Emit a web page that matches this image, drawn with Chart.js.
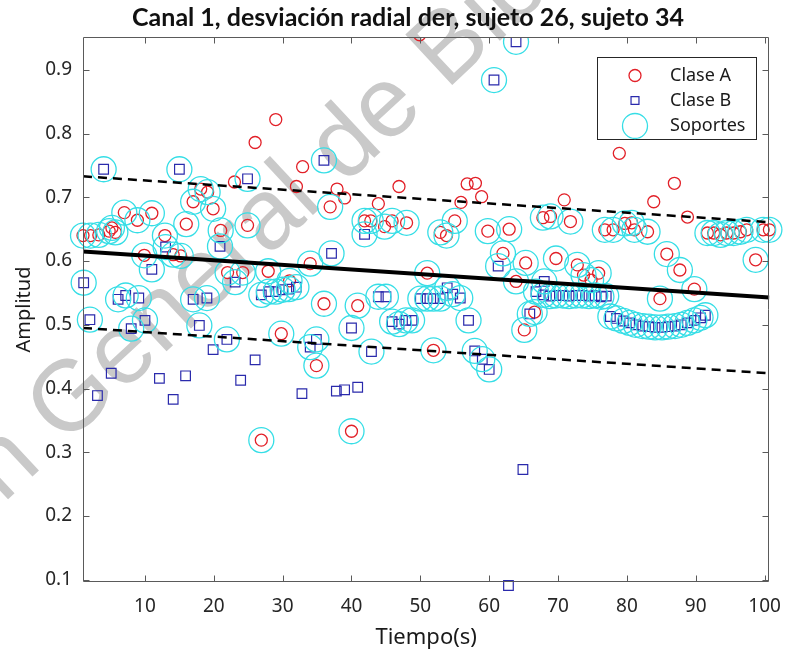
<!DOCTYPE html>
<html>
<head>
<meta charset="utf-8">
<script src="https://cdn.jsdelivr.net/npm/chart.js@4.4.1/dist/chart.umd.min.js"></script>
<style>
  html, body { margin: 0; padding: 0; background: #fff; }
  #wrap { width: 794px; height: 657px; }
</style>
</head>
<body>
<div id="wrap"><canvas id="myChart" width="794" height="657"></canvas></div>
<script>
// Clase A samples (time, amplitude, 1 = support vector)
const classA_x = [1.0, 2.1, 3.3, 4.8, 5.2, 5.7, 7.0, 8.9, 11.0, 9.9, 12.9, 14.1, 15.2, 16.0, 17.0, 18.1, 19.1, 19.9, 21.0, 23.0,
    22.0, 24.2, 26.0, 24.9, 26.9, 27.9, 29.0, 29.8, 31.0, 32.0, 32.9, 34.0, 34.9, 36.0, 36.9, 37.9, 39.0, 40.0, 40.9, 41.9,
    42.8, 43.9, 44.8, 45.9, 46.9, 48.0, 49.9, 51.0, 51.9, 52.9, 53.8, 55.0, 55.9, 56.8, 58.0, 58.9, 59.8, 62.0, 62.9, 63.9,
    65.3, 65.1, 66.6, 67.8, 68.9, 69.7, 70.9, 71.8, 72.8, 73.7, 74.8, 75.9, 76.8, 78.0, 78.9, 79.7, 80.7, 81.1, 83.0, 83.9,
    84.8, 85.8, 86.9, 87.7, 88.8, 89.8, 91.7, 92.6, 93.6, 94.5, 95.5, 96.5, 97.4, 98.7, 99.8, 100.7];
const classA_y = [0.640, 0.640, 0.641, 0.647, 0.652, 0.645, 0.676, 0.664, 0.675, 0.609, 0.640, 0.610, 0.608, 0.658, 0.693, 0.713, 0.708, 0.682, 0.648, 0.724,
    0.582, 0.582, 0.786, 0.656, 0.319, 0.584, 0.822, 0.486, 0.569, 0.717, 0.748, 0.596, 0.436, 0.533, 0.685, 0.713, 0.699, 0.333, 0.530, 0.663,
    0.663, 0.690, 0.654, 0.663, 0.717, 0.660, 0.955, 0.581, 0.460, 0.645, 0.640, 0.663, 0.692, 0.721, 0.722, 0.701, 0.647, 0.612, 0.650, 0.568,
    0.597, 0.492, 0.520, 0.668, 0.670, 0.604, 0.696, 0.662, 0.594, 0.578, 0.570, 0.581, 0.649, 0.649, 0.769, 0.659, 0.660, 0.649, 0.646, 0.693,
    0.541, 0.611, 0.722, 0.586, 0.669, 0.556, 0.644, 0.644, 0.641, 0.644, 0.644, 0.646, 0.649, 0.602, 0.649, 0.649];
const classA_sv = [1, 1, 1, 1, 1, 1, 1, 1, 1, 1, 1, 1, 1, 1, 1, 1, 1, 1, 1, 0,
    1, 1, 0, 1, 1, 1, 0, 1, 1, 0, 0, 1, 1, 1, 1, 0, 0, 1, 1, 1,
    1, 0, 1, 1, 0, 1, 0, 1, 1, 1, 1, 1, 0, 0, 0, 0, 1, 1, 1, 1,
    1, 1, 1, 1, 1, 1, 0, 1, 1, 1, 1, 1, 1, 1, 0, 1, 1, 1, 1, 0,
    1, 1, 0, 1, 0, 1, 1, 1, 1, 1, 1, 1, 1, 1, 1, 1];

// Clase B samples
const classB_x = [4.0, 15.0, 24.9, 36.0, 60.7, 63.9, 1.1, 2.0, 3.1, 5.1, 6.1, 7.2, 8.0, 9.1, 10.0, 11.0, 12.1, 13.0, 14.1, 15.9,
    17.0, 17.9, 19.0, 19.9, 20.9, 21.9, 23.1, 23.9, 26.0, 26.9, 28.0, 29.0, 30.0, 30.9, 32.0, 32.8, 34.0, 34.9, 37.1, 37.8,
    39.0, 40.9, 40.0, 41.9, 42.9, 43.9, 45.0, 45.9, 46.9, 47.9, 48.8, 50.0, 51.0, 51.9, 52.9, 53.9, 54.7, 55.8, 57.0, 57.9,
    59.0, 60.0, 61.3, 62.8, 64.9, 65.9, 66.8, 68.0, 67.9, 68.8, 69.7, 70.7, 71.6, 72.6, 73.5, 74.5, 75.4, 76.3, 77.0, 77.6,
    78.5, 79.5, 80.4, 81.3, 82.3, 83.2, 84.1, 85.1, 86.0, 87.0, 87.9, 88.8, 89.8, 90.7, 91.4];
const classB_y = [0.744, 0.744, 0.729, 0.758, 0.884, 0.944, 0.566, 0.508, 0.389, 0.424, 0.540, 0.546, 0.494, 0.542, 0.507, 0.587, 0.416, 0.622, 0.383, 0.420,
    0.540, 0.499, 0.542, 0.461, 0.623, 0.477, 0.567, 0.413, 0.445, 0.547, 0.552, 0.552, 0.555, 0.556, 0.559, 0.392, 0.465, 0.477, 0.612, 0.396,
    0.398, 0.402, 0.495, 0.642, 0.458, 0.544, 0.544, 0.505, 0.501, 0.507, 0.507, 0.541, 0.541, 0.541, 0.541, 0.558, 0.548, 0.542, 0.507, 0.459,
    0.446, 0.430, 0.592, 0.091, 0.273, 0.517, 0.552, 0.568, 0.547, 0.545, 0.546, 0.546, 0.545, 0.546, 0.546, 0.545, 0.546, 0.544, 0.545, 0.513,
    0.510, 0.506, 0.503, 0.500, 0.498, 0.497, 0.496, 0.496, 0.497, 0.498, 0.500, 0.503, 0.507, 0.511, 0.515];
const classB_sv = [1, 1, 1, 1, 1, 1, 1, 1, 0, 0, 1, 1, 1, 1, 1, 1, 0, 1, 0, 0,
    1, 1, 1, 0, 1, 1, 1, 0, 0, 1, 1, 1, 1, 1, 1, 0, 1, 1, 1, 0,
    0, 0, 1, 1, 1, 1, 1, 1, 1, 1, 1, 1, 1, 1, 1, 1, 1, 1, 1, 1,
    1, 1, 1, 0, 0, 1, 1, 1, 1, 1, 1, 1, 1, 1, 1, 1, 1, 1, 1, 1,
    1, 1, 1, 1, 1, 1, 1, 1, 1, 1, 1, 1, 1, 1, 1];

// separating line and margins, evaluated at the axis limits
const lineX = [1, 100.7];
const hyperplane = [0.615, 0.543];
const marginUpper = [0.733, 0.661];
const marginLower = [0.495, 0.424];

const xTicks = [10, 20, 30, 40, 50, 60, 70, 80, 90, 100];
const yTicks = [0.1, 0.2, 0.3, 0.4, 0.5, 0.6, 0.7, 0.8, 0.9];

const RED = 'rgb(226,32,40)';
const BLUE = 'rgb(42,42,172)';
const CYAN = 'rgb(54,222,230)';
const AXIS = '#5a5a5a';

const toPoints = (xs, ys) => xs.map((x, i) => ({ x: x, y: ys[i] }));
const pointsA = toPoints(classA_x, classA_y);
const pointsB = toPoints(classB_x, classB_y);
const supports = pointsA.filter((p, i) => classA_sv[i])
    .concat(pointsB.filter((p, i) => classB_sv[i]));

const markerClip = { left: 14, right: 14, top: 0, bottom: 14 };

const styleA = { pointStyle: 'circle', radius: 6, borderWidth: 1.3, color: RED };
const styleB = { pointStyle: 'rect', radius: 6.8, borderWidth: 1.2, color: BLUE };
const styleSV = { pointStyle: 'circle', radius: 12.5, borderWidth: 1.3, color: CYAN };

function markerDataset(label, data, st, order) {
    return {
        type: 'scatter',
        label: label,
        data: data,
        order: order,
        clip: markerClip,
        pointStyle: st.pointStyle,
        pointRadius: st.radius,
        pointBorderWidth: st.borderWidth,
        pointBorderColor: st.color,
        pointBackgroundColor: 'rgba(0,0,0,0)',
        showLine: false
    };
}

function fitLine(values, dash, width) {
    return {
        type: 'line',
        data: toPoints(lineX, values),
        order: 0,
        borderColor: '#000',
        borderWidth: width,
        borderDash: dash,
        pointRadius: 0,
        fill: false,
        clip: 0
    };
}

// faint diagonal stamp behind the plot
const watermark = {
    id: 'watermark',
    beforeDraw(chart) {
        const ctx = chart.ctx;
        ctx.save();
        ctx.font = '100px "Liberation Sans", Arial, sans-serif';
        ctx.fillStyle = '#c9c9c9';
        ctx.textBaseline = 'alphabetic';
        ctx.translate(64, 447);
        ctx.rotate(-43 * Math.PI / 180);
        const lead = ctx.measureText('Dirección ').width;
        ctx.fillText('Dirección General de Bibliotecas', -lead, 0);
        ctx.restore();
    }
};

// box around the axes with inward tick marks on all four sides
const axesBox = {
    id: 'axesBox',
    afterDatasetsDraw(chart) {
        const { ctx, chartArea: a, scales: { x, y } } = chart;
        const L = Math.round(a.left) + 0.5, R = Math.round(a.right) - 0.5;
        const T = Math.round(a.top) + 0.5, B = Math.round(a.bottom) - 0.5;
        ctx.save();
        ctx.strokeStyle = AXIS;
        ctx.lineWidth = 1;
        ctx.beginPath();
        ctx.rect(L, T, R - L, B - T);
        xTicks.forEach(v => {
            const px = Math.round(x.getPixelForValue(v)) + 0.5;
            ctx.moveTo(px, B); ctx.lineTo(px, B - 6);
            ctx.moveTo(px, T); ctx.lineTo(px, T + 6);
        });
        yTicks.forEach(v => {
            const py = Math.round(y.getPixelForValue(v)) + 0.5;
            ctx.moveTo(L, py); ctx.lineTo(L + 6, py);
            ctx.moveTo(R, py); ctx.lineTo(R - 6, py);
        });
        ctx.stroke();
        ctx.restore();
    }
};

const titleText = {
    id: 'titleText',
    afterDraw(chart) {
        const ctx = chart.ctx;
        ctx.save();
        ctx.font = 'bold 25px Lato, "Open Sans", sans-serif';
        ctx.fillStyle = '#111';
        ctx.textAlign = 'center';
        ctx.textBaseline = 'alphabetic';
        ctx.fillText('Canal 1, desviación radial der, sujeto 26, sujeto 34', 408, 26);
        ctx.restore();
    }
};

// boxed legend in the upper right corner of the axes
const boxLegend = {
    id: 'boxLegend',
    afterDraw(chart) {
        const ctx = chart.ctx;
        const entries = [
            { text: 'Clase A', st: styleA },
            { text: 'Clase B', st: Object.assign({}, styleB, { radius: 5.6 }) },
            { text: 'Soportes', st: styleSV }
        ];
        ctx.save();
        ctx.fillStyle = '#fff';
        ctx.fillRect(597, 57, 159, 82);
        ctx.strokeStyle = '#262626';
        ctx.lineWidth = 1;
        ctx.strokeRect(597.5, 57.5, 159, 82);
        const rows = [75.5, 100.5, 126];
        entries.forEach((e, i) => {
            ctx.strokeStyle = e.st.color;
            ctx.fillStyle = 'rgba(0,0,0,0)';
            ctx.lineWidth = e.st.borderWidth;
            Chart.helpers.drawPoint(ctx, {
                pointStyle: e.st.pointStyle,
                radius: e.st.radius,
                rotation: 0,
                borderWidth: e.st.borderWidth
            }, 635, rows[i]);
            ctx.fillStyle = '#1a1a1a';
            ctx.font = '18px "Noto Sans", sans-serif';
            ctx.textAlign = 'left';
            ctx.textBaseline = 'middle';
            ctx.fillText(e.text, 670, rows[i]);
        });
        ctx.restore();
    }
};

const ctx = document.getElementById('myChart');

const myChart = new Chart(ctx, {
    type: 'scatter',
    data: {
        datasets: [
            markerDataset('Clase A', pointsA, styleA, 3),
            markerDataset('Clase B', pointsB, styleB, 2),
            markerDataset('Soportes', supports, styleSV, 1),
            fitLine(hyperplane, [], 4),
            fitLine(marginUpper, [9, 6], 2.5),
            fitLine(marginLower, [9, 6], 2.5)
        ]
    },
    options: {
        responsive: false,
        animation: false,
        events: [],
        layout: {
            padding: { top: 37, right: 18, left: 0, bottom: 0 }
        },
        scales: {
            x: {
                type: 'linear',
                min: 1,
                max: 100.7,
                afterBuildTicks: scale => { scale.ticks = xTicks.map(v => ({ value: v })); },
                afterFit: scale => { scale.height = 75; },
                grid: { display: false, drawTicks: false },
                border: { display: false },
                ticks: {
                    color: '#262626',
                    padding: 13,
                    maxRotation: 0,
                    font: { family: '"Noto Sans", sans-serif', size: 19 }
                },
                title: {
                    display: true,
                    text: 'Tiempo(s)',
                    color: '#1a1a1a',
                    padding: { top: 0, bottom: 6 },
                    font: { family: '"Noto Sans", sans-serif', size: 22 }
                }
            },
            y: {
                type: 'linear',
                min: 0.0965,
                max: 0.9515,
                afterBuildTicks: scale => { scale.ticks = yTicks.map(v => ({ value: v })); },
                afterFit: scale => { scale.width = 83; },
                grid: { display: false, drawTicks: false },
                border: { display: false },
                ticks: {
                    color: '#262626',
                    padding: 11,
                    callback: value => value.toFixed(1),
                    font: { family: '"Noto Sans", sans-serif', size: 19 }
                },
                title: {
                    display: true,
                    text: 'Amplitud',
                    color: '#1a1a1a',
                    padding: { top: 12, bottom: 0 },
                    font: { family: '"Noto Sans", sans-serif', size: 20 }
                }
            }
        },
        plugins: {
            legend: { display: false },
            tooltip: { enabled: false },
            title: { display: false }
        }
    },
    plugins: [watermark, axesBox, titleText, boxLegend]
});
</script>
</body>
</html>
